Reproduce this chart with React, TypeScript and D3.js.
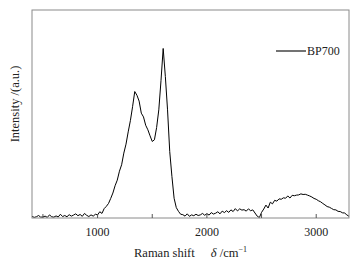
import React from "react";
import * as d3 from "d3";

// Raman shift sampling grid (cm^-1), step 20
const shift: number[] = d3.range(400, 3301, 20);
// Intensity (a.u.), one value per shift
const intensity: number[] = [
  0.8, 0.3, 0.6, 1.2, 0.4, 0.5, 0.9, 0.3, 1.5, 0.6,
  0.4, 1.0, 0.5, 1.8, 0.7, 1.2, 0.6, 1.6, 0.9, 1.4,
  2.0, 1.1, 1.7, 0.8, 2.2, 1.3, 0.7, 1.5, 0.9, 1.8,
  1.5, 3.0, 2.2, 4.5, 5.6, 7.0, 9.4, 12.0, 15.5, 18.2,
  22.5, 25.6, 31.2, 35.5, 41.4, 46.8, 53.5, 60.8, 59.0, 56.2,
  50.4, 48.6, 44.6, 42.4, 39.5, 36.8, 37.6, 43.5, 52.0, 66.0,
  81.5, 68, 52, 32, 20, 9.5, 5, 3.2, 1.8, 1.6,
  0.9, 2.0, 0.8, 1.5, 1.1, 1.8, 1.2, 1.5, 2.2, 1.3,
  2.1, 1.4, 2.6, 1.9, 2.3, 3.0, 2.0, 3.3, 2.6, 3.5,
  2.7, 3.9, 3.1, 4.5, 3.4, 4.4, 3.8, 4.0, 3.3, 4.4,
  3.5, 3.9, 2.4, 0.9, 0.2, 2.7, 4.3, 6.2, 4.8, 7.6,
  6.8, 8.5, 8.1, 9.2, 9.0, 9.7, 9.5, 10.6, 9.6, 10.9,
  10.7, 11.0, 11.1, 11.6, 11.3, 11.4, 11.0, 10.6, 10.1, 9.4,
  9.0, 8.3, 7.8, 7.0, 6.3, 5.5, 5.2, 4.6, 4.0, 3.9,
  3.2, 3.1, 2.5, 2.4, 1.5, 0.8,
];
const xTicks: number[] = [500, 1000, 1500, 2000, 2500, 3000];
const xTickLabels: number[] = [1000, 2000, 3000];
const seriesName = "BP700";

export default function App() {
  const W = 361, H = 261;
  const left = 32, right = 349, top = 10, bottom = 218;
  const x = d3.scaleLinear().domain([400, 3300]).range([left, right]);
  const y = d3.scaleLinear().domain([0, 100]).range([bottom, top]);
  const pts: [number, number][] = shift.map((s, i) => [s, intensity[i]]);
  const line = d3.line<[number, number]>().x((d) => x(d[0])).y((d) => y(d[1]));
  const font = "Liberation Serif, Times New Roman, serif";
  return (
    <svg width={W} height={H} style={{ position: "absolute", left: 0, top: 0 }}>
      <rect x={0} y={0} width={W} height={H} fill="#fff" />
      <path d={line(pts) || ""} fill="none" stroke="#000" strokeWidth={1} />
      <rect x={left} y={top} width={right - left} height={bottom - top} fill="none" stroke="#8a8a8a" strokeWidth={1} />
      {xTicks.map((t) => (
        <line key={t} x1={x(t)} x2={x(t)} y1={bottom} y2={bottom - 4} stroke="#555" strokeWidth={1} />
      ))}
      {xTickLabels.map((t) => (
        <text key={t} x={x(t)} y={236} textAnchor="middle" fontFamily={font} fontSize={12} fill="#222">
          {t}
        </text>
      ))}
      <text x={134} y={257} fontFamily={font} fontSize={12.5} fill="#222">
        Raman shift
        <tspan dx={16} fontStyle="italic">δ</tspan>
        <tspan> /cm</tspan>
        <tspan dy={-5} fontSize={8}>−1</tspan>
      </text>
      <text transform={`translate(19,${(top + bottom) / 2 - 10}) rotate(-90)`} textAnchor="middle" fontFamily={font} fontSize={12.5} fill="#222">
        Intensity /(a.u.)
      </text>
      <line x1={276} x2={306} y1={51} y2={51} stroke="#000" strokeWidth={1.1} />
      <text x={307} y={55} fontFamily={font} fontSize={12} fill="#222">
        {seriesName}
      </text>
    </svg>
  );
}
